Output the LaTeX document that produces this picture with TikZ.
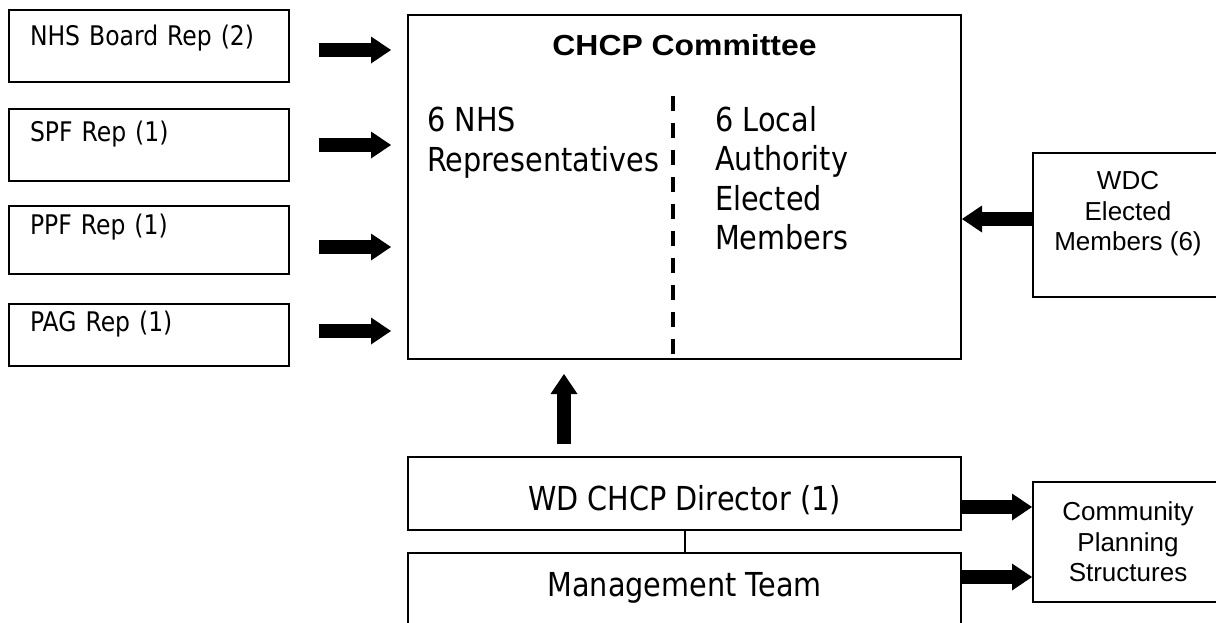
\documentclass[tikz,border=0pt]{standalone}
\usepackage{fontspec}
\newfontfamily\tahoma[FakeStretch=0.87]{DejaVu Sans}
\newfontfamily\arial{Liberation Sans}
\newfontfamily\arialwide[FakeStretch=1.1]{Liberation Sans}
\usepackage{tikz}
\usetikzlibrary{positioning}
\usetikzlibrary{arrows.meta,calc}

\begin{document}
\begin{tikzpicture}[x=1pt, y=-1pt,
	rep/.style={rectangle, draw, line width=2pt, minimum width=280pt, inner xsep=21pt, inner ysep=0pt,
		text width=238pt, align=left, text height=19pt, text depth=27pt, font=\tahoma\fontsize{27}{32}\selectfont},
	box/.style={rectangle, draw, line width=2pt, inner sep=0pt},
	big/.style={font=\tahoma\fontsize{33}{39.5}\selectfont},
	small/.style={inner sep=0pt, align=center, font=\arial\fontsize{26}{30.5}\selectfont},
	fat/.style={draw, line width=13.5pt, -{Triangle[length=20pt, width=27pt, line width=0pt]}},
	split/.style={draw, line width=4pt, dash pattern=on 15pt off 12pt}]
	
	\useasboundingbox (0,0) rectangle (1216,622);
	\fill[white] (0,0) rectangle (1216,622);
	
	% Representatives
	\node[rep, minimum height=72pt, text depth=21pt] (nhs) at (149,46) {NHS Board Rep (2)};
	\node[rep, minimum height=72pt, below = 25pt of nhs] (spf) {SPF Rep (1)};
	\node[rep, minimum height=68pt, text depth=31pt, below = 23pt of spf] (ppf) {PPF Rep (1)};
	\node[rep, minimum height=62pt, below = 28pt of ppf] (pag) {PAG Rep (1)};
	% Committee
	\node[box, minimum width=553pt, minimum height=344pt] (ctee) at (684.5,187) {};
	\node[inner sep=0pt, font=\arialwide\bfseries\fontsize{29}{33}\selectfont, below = 20pt of ctee.north] (title) {CHCP Committee};
	\node[big, inner sep=0pt, align=left, anchor=north west] (nhsmem) at ([xshift=20pt, yshift=-93pt]ctee.north west) {6 NHS\\Representatives};
	\node[big, inner sep=0pt, align=left, anchor=north west] (lamem) at ([xshift=308pt, yshift=-92pt]ctee.north west) {6 Local\\Authority\\Elected\\Members};
	\coordinate (splittop) at (673,96);
	\draw[split] (splittop) -- (splittop |- ctee.south);
	% WDC
	\node[box, minimum width=190pt, minimum height=144pt] (wdc) at (1128,225) {};
	\node[small] (wdctext) at ([yshift=11pt]wdc.center) {WDC\\Elected\\Members (6)};
	% Director and team
	\node[box, big, minimum width=553pt, minimum height=73pt, text height=33pt, text depth=0pt] (dir) at (684.5,493.5) {WD CHCP Director (1)};
	\node[box, big, minimum width=553pt, minimum height=87pt, text height=24pt, text depth=25pt] (mgmt) at (684.5,596.5) {Management Team};
	\node[box, small, minimum width=190pt, minimum height=120pt] (cps) at (1128,542) {Community\\Planning\\Structures};
	
	\draw[line width=2pt] (dir) -- (mgmt);
	
	\draw[fat, shorten <=29pt, shorten >=16pt] ($(nhs.east)+(0,4)$) -- ($(nhs.east -| ctee.west)+(0,4)$);
	\draw[fat, shorten <=29pt, shorten >=16pt] (spf.east) -- (spf.east -| ctee.west);
	\draw[fat, shorten <=29pt, shorten >=16pt] ($(ppf.east)+(0,7)$) -- ($(ppf.east -| ctee.west)+(0,7)$);
	\draw[fat, shorten <=29pt, shorten >=16pt] ($(pag.east)+(0,-4)$) -- ($(pag.east -| ctee.west)+(0,-4)$);
	
	\draw[fat] ($(wdc.west)+(0,-6)$) -- ($(wdc.west -| ctee.east)+(0,-6)$);
	\draw[fat, shorten <=12pt, shorten >=14pt] ($(dir.north)+(-120.5,0)$) -- ($(dir.north |- ctee.south)+(-120.5,0)$);
	\draw[fat] ($(dir.east)+(0,13.5)$) -- ($(dir.east -| cps.west)+(0,13.5)$);
	\draw[fat] ($(mgmt.east)+(0,-19.5)$) -- ($(mgmt.east -| cps.west)+(0,-19.5)$);
	
\end{tikzpicture}
\end{document}
